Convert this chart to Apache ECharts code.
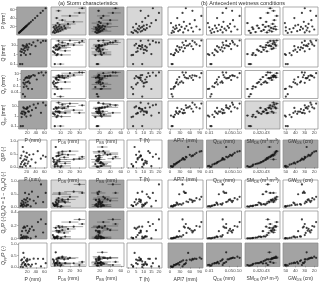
<!DOCTYPE html>
<html><head><meta charset="utf-8">
<script src="https://cdn.jsdelivr.net/npm/echarts@6/dist/echarts.min.js"></script>
<style>html,body{margin:0;padding:0;background:#fff}#c{width:320px;height:283px}</style>
</head><body><div id="c"></div>
<script>
// ---- event data (one entry per storm event) ----
const P      = [5,6,7,8,9,10,11,12,13,14,15,16,17,18,19,20,21,22,24,26,28,31,35,40,45,52,57,63];
const PDS    = [4,2,6,8,3,10,5,7,12,4,9,15,6,11,3,8,14,5,9,18,7,24,12,6,20,30,8,33];
const PDS_lo = [3,2,4,5,3,6,4,5,7,3,2,9,4,1,3,5,9,4,1,10,5,14,8,4,11,24,5,29];
const PDS_hi = [5,2,8,11,3,14,6,9,17,5,17,21,8,21,3,11,19,6,21,26,9,34,16,8,29,36,11,36];
const PBS    = [15,18,12,20,22,17,25,14,19,28,16,21,13,24,18,30,20,26,17,35,22,19,40,23,27,45,18,50];
const PBS_lo = [12,13,10,12,5,13,15,11,7,22,4,16,11,8,14,8,14,16,14,27,5,14,25,19,15,35,15,44];
const PBS_hi = [18,23,14,28,42,21,35,17,31,34,31,26,15,42,22,55,26,36,20,43,42,24,55,27,39,60,21,56];
const T      = [3,6,2,8,5,9,4,11,7,10,6,12,8,3,9,14,7,10,12,5,15,9,18,11,13,20,8,16];
const API7   = [5,40,12,70,25,8,55,30,90,15,45,20,65,10,35,80,50,18,28,60,3,42,75,22,95,38,68,48];
const QDS    = [0.012,0.03,0.015,0.06,0.02,0.011,0.04,0.025,0.1,0.013,0.035,0.018,0.05,0.01,0.028,0.08,0.045,0.016,0.022,0.055,0.009,0.032,0.07,0.019,0.12,0.03,0.065,0.04];
const SM     = [0.412,0.432,0.418,0.438,0.425,0.41,0.435,0.428,0.443,0.415,0.44,0.422,0.437,0.414,0.43,0.442,0.434,0.42,0.427,0.439,0.408,0.431,0.441,0.424,0.444,0.433,0.44,0.436];
const SM_lo  = [0.410,0.429,0.416,0.435,0.423,0.408,0.432,0.426,0.440,0.413,0.436,0.420,0.434,0.412,0.428,0.439,0.431,0.418,0.425,0.436,0.406,0.429,0.438,0.422,0.441,0.430,0.437,0.433];
const SM_hi  = [0.414,0.435,0.420,0.441,0.427,0.412,0.438,0.430,0.446,0.417,0.444,0.424,0.440,0.416,0.432,0.445,0.437,0.422,0.429,0.442,0.410,0.433,0.444,0.426,0.447,0.436,0.443,0.439];
const GW     = [48,30,44,25,38,50,28,35,20,46,32,42,27,50,34,22,29,40,37,26,51,31,23,41,18,33,24,30];
const Q      = [0.1,2.1,0.84,3.6,1.8,0.1,8.6,3.0,7.8,1.4,4.5,2.4,7.1,0.9,5.3,11,8.0,3.1,5.3,12.5,1.1,9.3,17.5,7.2,28,17,25.6,25];
const Qp     = [0.005,0.32,0.067,0.9,0.18,0.002,1.7,0.36,2.3,0.084,2.5,0.43,2.0,0.036,0.53,3.9,1.8,0.28,2.7,3.8,0.033,5.6,4.4,1.1,11.2,15,5.1,13.8];
const Qpp    = [0.095,1.78,0.77,2.7,1.62,0.098,6.9,2.64,5.5,1.3,2.0,1.97,5.1,0.86,4.8,7.1,6.2,2.8,2.6,8.7,1.07,3.7,13.1,6.1,16.8,2.0,20.5,11.2];
const QP     = [0.02,0.35,0.12,0.45,0.2,0.01,0.78,0.25,0.6,0.1,0.3,0.15,0.42,0.05,0.28,0.55,0.38,0.14,0.22,0.48,0.04,0.3,0.5,0.18,0.62,0.33,0.45,0.4];
const QpQ    = [0.05,0.15,0.08,0.25,0.1,0.02,0.2,0.12,0.3,0.06,0.55,0.18,0.28,0.04,0.1,0.35,0.22,0.09,0.5,0.3,0.03,0.6,0.25,0.15,0.4,0.88,0.2,0.55];
const QpP    = [0.001,0.05,0.01,0.11,0.02,0.0002,0.16,0.03,0.18,0.006,0.165,0.027,0.12,0.002,0.028,0.19,0.084,0.013,0.11,0.144,0.001,0.18,0.125,0.027,0.25,0.29,0.09,0.22];
const QppP   = [0.019,0.3,0.11,0.34,0.18,0.01,0.62,0.22,0.42,0.094,0.135,0.123,0.3,0.048,0.252,0.36,0.296,0.127,0.11,0.336,0.039,0.12,0.375,0.153,0.37,0.04,0.36,0.18];

// ---- tick labels ----
const xTickP = [20,40,60], xTickPDS = [10,20,30], xTickPBS = [20,40,60], xTickT = [0,5,10,15,20];
const xTickAPI = [0,30,60,90], xTickQDS = [0.01,0.05,0.10], xTickSM = [0.41,0.42,0.43,0.44], xTickGW = [50,40,30,20];
const yTickP = [20,40,60], yTickQ = [0.1,1,10], yTickQp = [0.01,0.1,1,10], yTickQpp = [0.1,1,10];
const yTickRatio = [0,0.5,1], yTickQpP = [0,0.2,0.4];

const cols = [
  {name:'P (mm)', d:P, ticks:xTickP, min:0, max:66, dec:0},
  {name:'P{s|DS} (mm)', d:PDS, lo:PDS_lo, hi:PDS_hi, ticks:xTickPDS, min:0, max:37, dec:0},
  {name:'P{s|BS} (mm)', d:PBS, lo:PBS_lo, hi:PBS_hi, ticks:xTickPBS, min:0, max:66, dec:0},
  {name:'T (h)', d:T, ticks:xTickT, min:-1, max:22, dec:0},
  {name:'API7 (mm)', d:API7, ticks:xTickAPI, min:-6, max:100, dec:0},
  {name:'Q{s|DS} (mm)', d:QDS, ticks:xTickQDS, log:true, min:0.008, max:0.14, dec:2},
  {name:'SM{s|DS} (m{u|3} m{u|-3})', d:SM, lo:SM_lo, hi:SM_hi, ticks:xTickSM, min:0.405, max:0.448, dec:2},
  {name:'GW{s|DS} (cm)', d:GW, ticks:xTickGW, min:16, max:53, inverse:true, dec:0}
];
const rows = [
  {name:'P (mm)', d:P, ticks:yTickP, min:0, max:66, dec:0},
  {name:'Q (mm)', d:Q, ticks:yTickQ, log:true, min:0.05, max:40, dec:-1},
  {name:'Q{s|p} (mm)', d:Qp, ticks:yTickQp, log:true, min:0.001, max:30, dec:-1},
  {name:'Q{s|pp} (mm)', d:Qpp, ticks:yTickQpp, log:true, min:0.05, max:30, dec:-1},
  {name:'Q/P (-)', d:QP, ticks:yTickRatio, min:-0.03, max:1.05, dec:1},
  {name:'Q{s|p}/Q = 1 − Q{s|pp}/Q (-)', d:QpQ, ticks:yTickRatio, min:-0.03, max:1.05, dec:1},
  {name:'Q{s|p}/P (-)', d:QpP, ticks:yTickQpP, min:-0.01, max:0.42, dec:1},
  {name:'Q{s|pp}/P (-)', d:QppP, ticks:yTickRatio, min:-0.03, max:1.05, dec:1}
];

// ---- layout / style ----
const colX = [12, 51, 89, 127, 168, 206.5, 245, 283];
const rowY = [7, 39, 70.5, 101, 140, 180, 211, 243];
const PW = 35, PH = 28;
const DK = '#a3a3a3', LT = '#d7d7d7', WH = '#ffffff';
const bgTable = [
  [DK,LT,DK,LT, WH,WH,WH,WH],
  [DK,WH,LT,LT, WH,WH,WH,WH],
  [DK,WH,DK,LT, WH,WH,WH,WH],
  [DK,WH,WH,LT, WH,WH,LT,WH],
  [WH,WH,WH,WH, DK,DK,DK,DK],
  [DK,LT,DK,WH, WH,WH,WH,WH],
  [DK,WH,DK,WH, WH,WH,WH,WH],
  [WH,WH,WH,WH, DK,DK,DK,DK]
];
const xLabelRows = [3, 4, 7];
const FONT = 'Liberation Sans';
const rich = {
  s: {fontSize: 3.6, verticalAlign: 'bottom', padding: [2.5,0,0,0], fontFamily: FONT, color:'#333'},
  u: {fontSize: 3.6, verticalAlign: 'top', padding: [0,0,2,0], fontFamily: FONT, color:'#333'}
};
function fmt(dec){
  return v => dec < 0 ? String(+(+v).toPrecision(3)) : (+v).toFixed(dec);
}

const grid = [], xAxis = [], yAxis = [], series = [];
let k = 0;
rows.forEach((r, ri) => {
  cols.forEach((c, ci) => {
    grid.push({left: colX[ci], top: rowY[ri], width: PW, height: PH, show: true,
      backgroundColor: bgTable[ri][ci], borderColor: '#8a8a8a', borderWidth: 0.7, containLabel: false});
    const showX = xLabelRows.includes(ri);
    const showY = ci === 0;
    xAxis.push({gridIndex: k, type: c.log ? 'log' : 'value', logBase: 10, min: c.min, max: c.max,
      inverse: !!c.inverse, axisLine: {show: false}, splitLine: {show: false},
      axisTick: {show: showX, length: 1.5, customValues: c.ticks, lineStyle: {color: '#666', width: 0.5}},
      axisLabel: {show: showX, customValues: c.ticks, fontSize: 4.3, margin: 2, color: '#444', fontFamily: FONT, formatter: fmt(c.dec)},
      name: showX ? c.name : '', nameLocation: 'middle', nameGap: 9,
      nameTextStyle: {fontSize: 5, color: '#333', fontFamily: FONT, rich: rich}});
    yAxis.push({gridIndex: k, type: r.log ? 'log' : 'value', logBase: 10, min: r.min, max: r.max,
      axisLine: {show: false}, splitLine: {show: false},
      axisTick: {show: showY, length: 1.5, customValues: r.ticks, lineStyle: {color: '#666', width: 0.5}},
      axisLabel: {show: showY, customValues: r.ticks, fontSize: 4.3, margin: 2, color: '#444', fontFamily: FONT, formatter: fmt(r.dec)},
      name: showY ? r.name : '', nameLocation: 'middle', nameGap: 8.5,
      nameTextStyle: {fontSize: 5, color: '#333', fontFamily: FONT, rich: rich}});
    if (c.lo) {
      series.push({type: 'custom', xAxisIndex: k, yAxisIndex: k, silent: true, clip: true, z: 1,
        encode: {x: [0, 1], y: 2},
        data: c.lo.map((lo, i) => [lo, c.hi[i], r.d[i]]),
        renderItem: (params, api) => {
          const a = api.coord([api.value(0), api.value(2)]);
          const b = api.coord([api.value(1), api.value(2)]);
          return {type: 'line', shape: {x1: a[0], y1: a[1], x2: b[0], y2: b[1]},
            style: {stroke: '#4a4a4a', lineWidth: 0.5}};
        }});
    }
    series.push({type: 'scatter', xAxisIndex: k, yAxisIndex: k, silent: true, clip: true, z: 2,
      symbol: 'circle', symbolSize: 2.2, itemStyle: {color: '#111'},
      data: c.d.map((x, i) => [x, r.d[i]])});
    k++;
  });
});

const chart = echarts.init(document.getElementById('c'), null, {renderer: 'canvas'});
chart.setOption({
  animation: false,
  backgroundColor: '#fff',
  grid, xAxis, yAxis, series,
  graphic: [
    {type: 'text', x: 88, y: 3.5, style: {text: '(a) Storm characteristics', align: 'center', verticalAlign: 'middle', fontSize: 5.5, fill: '#333', fontFamily: FONT}},
    {type: 'text', x: 243, y: 3.5, style: {text: '(b) Antecedent wetness conditions', align: 'center', verticalAlign: 'middle', fontSize: 5.5, fill: '#333', fontFamily: FONT}}
  ]
});
</script>
</body></html>
